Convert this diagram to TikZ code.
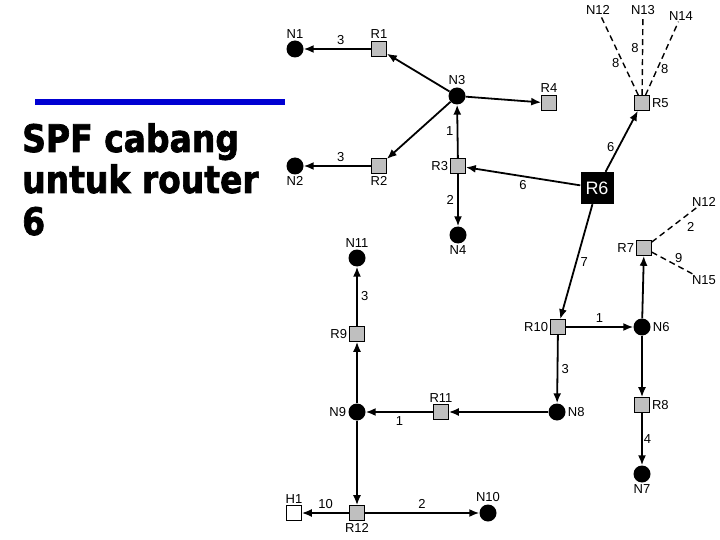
\documentclass[tikz,border=0pt]{standalone}
\usepackage{fontspec}
\setmainfont{Liberation Sans}
\newfontfamily\titlefont[FakeBold=2]{DejaVu Sans Bold}
\usetikzlibrary{positioning}
\usetikzlibrary{arrows.meta}

\definecolor{barblue}{RGB}{0,0,210}

\begin{document}
\begin{tikzpicture}[x=1pt, y=-1pt, on grid,
    font=\fontsize{13}{15}\selectfont,
    net/.style={circle, fill=black, inner sep=0pt, minimum size=17pt},
    rtr/.style={rectangle, draw=black, line width=0.6pt, fill=gray!50, inner sep=0pt, minimum size=15pt},
    host/.style={rtr, fill=white},
    root/.style={rectangle, fill=black, text=white, inner sep=0pt, minimum width=33pt, minimum height=32pt, font=\fontsize{18}{18}\selectfont},
    lbl/.style={inner sep=1pt},
    every label/.style={lbl},
    label distance=1pt,
    arr/.style={-{Latex[length=10pt,width=8pt]}, line width=1.8pt},
    stub/.style={dash pattern=on 6pt off 4pt, line width=1.4pt},
    ttl/.style={anchor=base west, inner sep=0pt, yscale=1.15, font=\titlefont\fontsize{33}{40}\selectfont}]
    \useasboundingbox (0,0) rectangle (720,540);

    % title
    \draw[barblue, line width=6pt] (35,102) -- (285,102);
    \node[ttl] (t1) at (22,152) {SPF cabang};
    \node[ttl] (t2) at (22,193) {untuk router};
    \node[ttl] (t3) at (22,235) {6};

    % upper part
    \node[net, label=above:N3] (N3) at (457,96) {};
    \node[rtr, label=above:R1] (R1) at (379,49) {};
    \node[net, left=84pt of R1, label=above:N1] (N1) {};
    \node[rtr, label=above:R4] (R4) at (549,103) {};
    \node[rtr, label=below:R2] (R2) at (379,166) {};
    \node[net, left=84pt of R2, label=below:N2] (N2) {};
    \node[rtr, label=left:R3] (R3) at (458,166) {};
    \node[net, below=69pt of R3, label=below:N4] (N4) {};

    % root and right side
    \node[root] (R6) at (597,188) {R6};
    \node[rtr, label=right:R5] (R5) at (642,103) {};
    \node[lbl] (N12a) at (598,10) {N12};
    \node[lbl] (N13) at (643,10) {N13};
    \node[lbl] (N14) at (681,16) {N14};
    \node[rtr, label=left:R7] (R7) at (644,248) {};
    \node[lbl] (N12b) at (704,202) {N12};
    \node[lbl] (N15) at (704,280) {N15};
    \node[rtr, label=left:R10] (R10) at (558,327) {};
    \node[net, right=84pt of R10, label=right:N6] (N6) {};
    \node[rtr, below=78pt of N6, label=right:R8] (R8) {};
    \node[net, below=69pt of R8, label=below:N7] (N7) {};

    % lower part
    \node[net, label=right:N8] (N8) at (557,412) {};
    \node[rtr, left=116pt of N8, label=above:R11] (R11) {};
    \node[net, left=84pt of R11, label=left:N9] (N9) {};
    \node[rtr, above=78pt of N9, label=left:R9] (R9) {};
    \node[net, above=76pt of R9, label=above:N11] (N11) {};
    \node[rtr, below=101pt of N9, label=below:R12] (R12) {};
    \node[host, left=63pt of R12, label=above:H1] (H1) {};
    \node[net, right=131pt of R12, label=above:N10] (N10) {};

    \draw[arr] (R1) -- node[above, pos=0.45] {3} (N1);
    \draw[arr] (N3) -- (R1);
    \draw[arr] (N3) -- (R4);
    \draw[arr] (N3) -- (R2);
    \draw[arr] (R2) -- node[above, pos=0.45] {3} (N2);
    \draw[arr] (R3) -- node[left] {1} (N3);
    \draw[arr] (R3) -- node[left] {2} (N4);
    \draw[arr] (R6) -- node[below] {6} (R3);
    \draw[arr] (R6) -- node[left, pos=0.4] {6} (R5);
    \draw[arr] (R6) -- node[right] {7} (R10);
    \draw[arr] (R10) -- node[above] {1} (N6);
    \draw[arr] (N6) -- (R7);
    \draw[arr] (N6) -- (R8);
    \draw[arr] (R8) -- node[right, inner sep=1pt] {4} (N7);
    \draw[arr] (R10) -- node[right] {3} (N8);
    \draw[arr] (N8) -- (R11);
    \draw[arr] (R11) -- node[below] {1} (N9);
    \draw[arr] (N9) -- (R9);
    \draw[arr] (R9) -- node[right] {3} (N11);
    \draw[arr] (N9) -- (R12);
    \draw[arr] (R12) -- node[above] {10} (H1);
    \draw[arr] (R12) -- node[above] {2} (N10);

    \draw[stub] (R5) -- node[left, pos=0.4] {8} (N12a);
    \draw[stub] (R5) -- node[left, pos=0.6] {8} (N13);
    \draw[stub] (R5) -- node[right, pos=0.35] {8} (N14);
    \draw[stub] (R7) -- node[below right, pos=0.7] {2} (N12b);
    \draw[stub] (R7) -- node[above, pos=0.65] {9} (N15);
\end{tikzpicture}
\end{document}
